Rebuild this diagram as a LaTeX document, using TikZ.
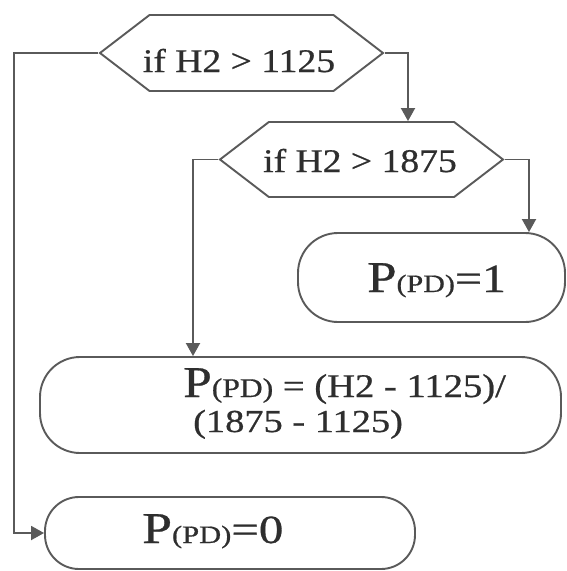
\documentclass[tikz,border=0pt]{standalone}
\usepackage{fontspec}
\setmainfont{Liberation Serif}
\newfontfamily\heavy{Liberation Serif}[FakeBold=0.6]
\usepackage{graphicx}
\usetikzlibrary{shapes.symbols,arrows.meta}
\definecolor{ln}{HTML}{5A5A5A}
\definecolor{tx}{HTML}{2E2E2E}
\newcommand{\fs}[2]{{\fontsize{#1}{#1}\selectfont #2}}
\newcommand{\sx}[2]{\scalebox{#1}[1]{\heavy #2}}
\begin{document}
\begin{tikzpicture}[x=1pt,y=-1pt,
  hexbox/.style={shape=signal, signal to=west and east, signal pointer angle=75,
    draw=ln, line width=1.9pt, minimum width=283pt, inner sep=0pt},
  rbox/.style={draw=ln, line width=1.9pt, inner sep=0pt},
  conn/.style={draw=ln, line width=1.9pt, -{Triangle[width=14pt,length=13pt]}},
  lbl/.style={text=tx, inner sep=0pt}]
\useasboundingbox (0,0) rectangle (566,571);
\fill[white] (0,0) rectangle (566,571);

% decision hexagons
\node[hexbox, minimum height=76pt] (h1) at (241.5,53) {};
\node[hexbox, minimum height=75pt] (h2) at (361.5,159.5) {};

% result boxes
\node[rbox, rounded corners=40pt, minimum width=267pt, minimum height=89pt] (p1) at (431.5,277.5) {};
\node[rbox, rounded corners=40pt, minimum width=521pt, minimum height=96pt] (pf) at (300.5,405) {};
\node[rbox, rounded corners=34pt, minimum width=370pt, minimum height=72pt] (p0) at (230,533) {};

% texts
\node[lbl, anchor=base] (t1) at (239,72) {\sx{1.14}{\fs{33}{if H2 > 1125}}};
\node[lbl, anchor=base] (t2) at (360,172) {\sx{1.14}{\fs{33}{if H2 > 1875}}};
\node[lbl, anchor=base west] (tp1) at (367,292) {\sx{1.2}{\fs{44}{P}\fs{25}{(PD)}\fs{40}{=1}}};
\node[lbl, anchor=base west] (tf1) at (183,397) {\sx{1.17}{\fs{44}{P}\fs{27}{(PD)}\fs{33}{ = (H2 - 1125)/}}};
\node[lbl, anchor=base west] (tf2) at (193,432) {\sx{1.2}{\fs{32}{(1875 - 1125)}}};
\node[lbl, anchor=base west] (tp0) at (142,543) {\sx{1.22}{\fs{44}{P}\fs{25}{(PD)}\fs{40}{=0}}};

% connectors
\coordinate (lc) at (14,533);
\draw[conn] (h1.east) -| ([xshift=46.5pt]h2.north);
\draw[conn] (h1.west) -| (lc) -- (p0.west);
\draw[conn] (h2.west) -| ([xshift=-107.5pt]pf.north);
\draw[conn] (h2.east) -| ([xshift=97.5pt]p1.north);
\end{tikzpicture}
\end{document}
